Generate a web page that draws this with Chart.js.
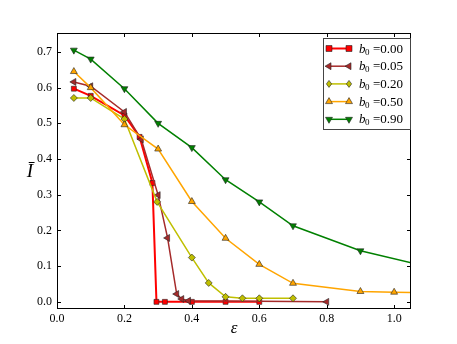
<!DOCTYPE html>
<html><head><meta charset="utf-8">
<script src="https://cdn.jsdelivr.net/npm/chart.js@4/dist/chart.umd.min.js"></script>
<style>html,body{margin:0;padding:0;background:#fff}canvas{display:block}</style>
</head><body>
<canvas id="c" width="457" height="344"></canvas>
<script>
const seriesLabels = ['0.00', '0.05', '0.20', '0.50', '0.90'];
const epsRed    = [0.05, 0.1, 0.2, 0.245, 0.283, 0.295, 0.32, 0.4, 0.5, 0.6];
const valRed    = [0.597, 0.577, 0.522, 0.462, 0.333, 0.0, 0.0, 0.0, 0.0, 0.0];
const epsBrown  = [0.05, 0.1, 0.2, 0.25, 0.3, 0.328, 0.355, 0.37, 0.39, 0.8];
const valBrown  = [0.616, 0.604, 0.532, 0.455, 0.299, 0.179, 0.022, 0.008, 0.003, 0.0];
const epsYellow = [0.05, 0.1, 0.2, 0.297, 0.4, 0.45, 0.5, 0.55, 0.6, 0.7];
const valYellow = [0.571, 0.571, 0.512, 0.28, 0.124, 0.053, 0.014, 0.01, 0.01, 0.01];
const epsOrange = [0.05, 0.1, 0.2, 0.3, 0.4, 0.5, 0.6, 0.7, 0.9, 1.0, 1.1];
const valOrange = [0.645, 0.6, 0.496, 0.428, 0.281, 0.178, 0.105, 0.052, 0.029, 0.027, 0.025];
const epsGreen  = [0.05, 0.1, 0.2, 0.3, 0.4, 0.5, 0.6, 0.7, 0.9, 1.1];
const valGreen  = [0.705, 0.68, 0.597, 0.5, 0.432, 0.342, 0.28, 0.213, 0.143, 0.098];
const xTicks = [0.0, 0.2, 0.4, 0.6, 0.8, 1.0];
const yTicks = [0.0, 0.1, 0.2, 0.3, 0.4, 0.5, 0.6, 0.7];

const pts = (xs, ys) => xs.map((x, i) => ({x: x, y: ys[i]}));
const serif = '"Liberation Serif", "DejaVu Serif", serif';

function ds(label, xs, ys, color, style, rot, radius, width, order) {
  return {label: label, data: pts(xs, ys), borderColor: color, backgroundColor: color,
    pointBackgroundColor: color, pointBorderColor: '#222', pointBorderWidth: 0.6,
    pointStyle: style, pointRotation: rot, pointRadius: radius, borderWidth: width,
    tension: 0, order: order, clip: 0};
}
const datasets = [
  ds(seriesLabels[0], epsRed, valRed, '#ff0000', 'rect', 0, 3.5, 2, 5),
  ds(seriesLabels[1], epsBrown, valBrown, '#a52a2a', 'triangle', -90, 4, 1.5, 4),
  ds(seriesLabels[2], epsYellow, valYellow, '#bfbf00', 'rectRot', 0, 3.5, 1.5, 3),
  ds(seriesLabels[3], epsOrange, valOrange, '#ffa500', 'triangle', 0, 4, 1.5, 2),
  ds(seriesLabels[4], epsGreen, valGreen, '#008000', 'triangle', 180, 4, 1.5, 1)
];

function drawMarker(ctx, style, rot, x, y, r, fill) {
  ctx.save();
  ctx.translate(x, y);
  ctx.rotate(rot * Math.PI / 180);
  ctx.beginPath();
  if (style === 'rect') { ctx.rect(-r*0.85, -r*0.85, r*1.7, r*1.7); }
  else if (style === 'rectRot') { ctx.moveTo(0,-r); ctx.lineTo(r*0.75,0); ctx.lineTo(0,r); ctx.lineTo(-r*0.75,0); ctx.closePath(); }
  else { ctx.moveTo(0,-r); ctx.lineTo(r*0.87, r*0.5); ctx.lineTo(-r*0.87, r*0.5); ctx.closePath(); }
  ctx.fillStyle = fill; ctx.fill();
  ctx.lineWidth = 0.6; ctx.strokeStyle = '#222'; ctx.stroke();
  ctx.restore();
}

const framePlugin = {
  id: 'frame',
  afterDraw(chart) {
    const ctx = chart.ctx, a = chart.chartArea;
    const xs = chart.scales.x, ys = chart.scales.y;
    ctx.save();
    ctx.strokeStyle = '#000'; ctx.lineWidth = 1;
    ctx.strokeRect(Math.round(a.left) + 0.5, Math.round(a.top) + 0.5, Math.round(a.right - a.left) - 1, Math.round(a.bottom - a.top) - 1);
    ctx.beginPath();
    xTicks.forEach(v => { const px = Math.round(xs.getPixelForValue(v)) + 0.5;
      ctx.moveTo(px, a.bottom); ctx.lineTo(px, a.bottom - 4);
      ctx.moveTo(px, a.top); ctx.lineTo(px, a.top + 4); });
    yTicks.forEach(v => { const py = Math.round(ys.getPixelForValue(v)) + 0.5;
      ctx.moveTo(a.left, py); ctx.lineTo(a.left + 4, py);
      ctx.moveTo(a.right, py); ctx.lineTo(a.right - 4, py); });
    ctx.stroke();
    // y label
    ctx.fillStyle = '#000';
    ctx.font = 'italic 19px ' + serif;
    ctx.textAlign = 'center'; ctx.textBaseline = 'middle';
    ctx.fillText('\u012A', 30, 172);
    // legend
    const bx = 323, by = 38, bw = 87, bh = 91;
    ctx.fillStyle = '#fff'; ctx.fillRect(bx, by, bw, bh);
    ctx.strokeStyle = '#444'; ctx.lineWidth = 1;
    ctx.strokeRect(bx + 0.5, by + 0.5, bw, bh);
    chart.data.datasets.forEach((d, i) => {
      const y = 48.5 + i * 17.7;
      ctx.strokeStyle = d.borderColor; ctx.lineWidth = d.borderWidth;
      ctx.beginPath(); ctx.moveTo(329, y); ctx.lineTo(349, y); ctx.stroke();
      drawMarker(ctx, d.pointStyle, d.pointRotation, 329, y, d.pointRadius, d.backgroundColor);
      drawMarker(ctx, d.pointStyle, d.pointRotation, 349, y, d.pointRadius, d.backgroundColor);
      ctx.fillStyle = '#000'; ctx.textAlign = 'left'; ctx.textBaseline = 'alphabetic';
      ctx.font = 'italic 13px ' + serif;
      ctx.fillText('b', 359, y + 4);
      ctx.font = '9px ' + serif;
      ctx.fillText('0', 365, y + 6);
      ctx.font = '13px ' + serif;
      ctx.fillText('=' + d.label, 373, y + 4);
    });
    ctx.restore();
  }
};

new Chart(document.getElementById('c'), {
  type: 'line',
  data: {datasets: datasets},
  options: {
    responsive: false, animation: false, devicePixelRatio: 1,
    layout: {padding: {left: 0, top: 33, right: 46, bottom: 0}},
    plugins: {legend: {display: false}, tooltip: {enabled: false}},
    scales: {
      x: {type: 'linear', min: 0, max: 1.05,
        afterBuildTicks: s => { s.ticks = xTicks.map(v => ({value: v})); },
        afterFit: s => { s.height = 35; },
        grid: {display: false, drawTicks: false}, border: {display: false},
        ticks: {padding: 3, color: '#000', font: {family: serif, size: 12}, callback: v => Number(v).toFixed(1), maxRotation: 0},
        title: {display: true, text: '\u03B5', color: '#000', font: {family: serif, size: 17, style: 'italic'}, padding: {top: 0, bottom: 5}}
      },
      y: {type: 'linear', min: -0.02, max: 0.753,
        afterBuildTicks: s => { s.ticks = yTicks.map(v => ({value: v})); },
        afterFit: s => { s.width = 57; },
        grid: {display: false, drawTicks: false}, border: {display: false},
        ticks: {padding: 5, color: '#000', font: {family: serif, size: 12}, callback: v => Number(v).toFixed(1)}
      }
    }
  },
  plugins: [framePlugin]
});
</script>
</body></html>
